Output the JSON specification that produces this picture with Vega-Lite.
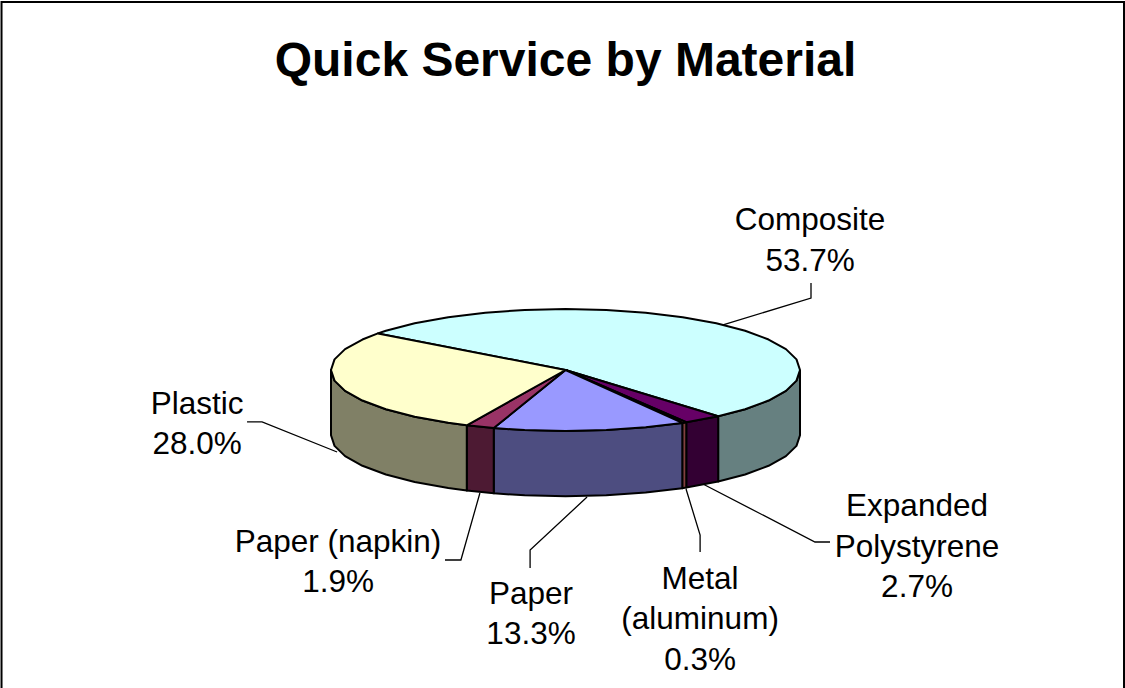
{"$schema":"https://vega.github.io/schema/vega-lite/v6.json","width":1125,"height":688,"padding":0,"autosize":{"type":"none"},"background":"white","view":{"stroke":null},
"title":{"text":"Quick Service by Material","font":"Liberation Sans","fontSize":48,"fontWeight":"bold","color":"black","anchor":"middle","frame":"group","baseline":"alphabetic","offset":-78,"dx":3,"dy":48},
"datasets":{
"faces":[
{"face":"Composite side","o":0,"x":100,"y":0},{"face":"Composite side","o":1,"x":98.5,"y":-17.4},{"face":"Composite side","o":2,"x":94,"y":-34.2},{"face":"Composite side","o":3,"x":86.6,"y":-50},{"face":"Composite side","o":4,"x":76.6,"y":-64.3},{"face":"Composite side","o":5,"x":65.1,"y":-75.9},{"face":"Composite side","o":6,"x":65.1,"y":-182.9},{"face":"Composite side","o":7,"x":76.6,"y":-171.3},{"face":"Composite side","o":8,"x":86.6,"y":-157},{"face":"Composite side","o":9,"x":94,"y":-141.2},{"face":"Composite side","o":10,"x":98.5,"y":-124.4},{"face":"Composite side","o":11,"x":100,"y":-107},{"face":"Composite side","o":12,"x":100,"y":0},
{"face":"Polystyrene side","o":0,"x":65.1,"y":-75.9},{"face":"Polystyrene side","o":1,"x":51.5,"y":-85.7},{"face":"Polystyrene side","o":2,"x":51.5,"y":-192.7},{"face":"Polystyrene side","o":3,"x":65.1,"y":-182.9},{"face":"Polystyrene side","o":4,"x":65.1,"y":-75.9},
{"face":"Metal side","o":0,"x":51.5,"y":-85.7},{"face":"Metal side","o":1,"x":49.8,"y":-86.7},{"face":"Metal side","o":2,"x":49.8,"y":-193.7},{"face":"Metal side","o":3,"x":51.5,"y":-192.7},{"face":"Metal side","o":4,"x":51.5,"y":-85.7},
{"face":"Paper side","o":0,"x":49.8,"y":-86.7},{"face":"Paper side","o":1,"x":34.2,"y":-94},{"face":"Paper side","o":2,"x":17.4,"y":-98.5},{"face":"Paper side","o":3,"x":0,"y":-100},{"face":"Paper side","o":4,"x":-17.4,"y":-98.5},{"face":"Paper side","o":5,"x":-30.6,"y":-95.2},{"face":"Paper side","o":6,"x":-30.6,"y":-202.2},{"face":"Paper side","o":7,"x":-17.4,"y":-205.5},{"face":"Paper side","o":8,"x":0,"y":-207},{"face":"Paper side","o":9,"x":17.4,"y":-205.5},{"face":"Paper side","o":10,"x":34.2,"y":-201},{"face":"Paper side","o":11,"x":49.8,"y":-193.7},{"face":"Paper side","o":12,"x":49.8,"y":-86.7},
{"face":"Napkin side","o":0,"x":-30.6,"y":-95.2},{"face":"Napkin side","o":1,"x":-42.1,"y":-90.7},{"face":"Napkin side","o":2,"x":-42.1,"y":-197.7},{"face":"Napkin side","o":3,"x":-30.6,"y":-202.2},{"face":"Napkin side","o":4,"x":-30.6,"y":-95.2},
{"face":"Plastic side","o":0,"x":-42.1,"y":-90.7},{"face":"Plastic side","o":1,"x":-50,"y":-86.6},{"face":"Plastic side","o":2,"x":-64.3,"y":-76.6},{"face":"Plastic side","o":3,"x":-76.6,"y":-64.3},{"face":"Plastic side","o":4,"x":-86.6,"y":-50},{"face":"Plastic side","o":5,"x":-94,"y":-34.2},{"face":"Plastic side","o":6,"x":-98.5,"y":-17.4},{"face":"Plastic side","o":7,"x":-100,"y":0},{"face":"Plastic side","o":8,"x":-100,"y":-107},{"face":"Plastic side","o":9,"x":-98.5,"y":-124.4},{"face":"Plastic side","o":10,"x":-94,"y":-141.2},{"face":"Plastic side","o":11,"x":-86.6,"y":-157},{"face":"Plastic side","o":12,"x":-76.6,"y":-171.3},{"face":"Plastic side","o":13,"x":-64.3,"y":-183.6},{"face":"Plastic side","o":14,"x":-50,"y":-193.6},{"face":"Plastic side","o":15,"x":-42.1,"y":-197.7},{"face":"Plastic side","o":16,"x":-42.1,"y":-90.7},
{"face":"Composite top","o":0,"x":0,"y":0},{"face":"Composite top","o":1,"x":-80,"y":60},{"face":"Composite top","o":2,"x":-76.6,"y":64.3},{"face":"Composite top","o":3,"x":-64.3,"y":76.6},{"face":"Composite top","o":4,"x":-50,"y":86.6},{"face":"Composite top","o":5,"x":-34.2,"y":94},{"face":"Composite top","o":6,"x":-17.4,"y":98.5},{"face":"Composite top","o":7,"x":0,"y":100},{"face":"Composite top","o":8,"x":17.4,"y":98.5},{"face":"Composite top","o":9,"x":34.2,"y":94},{"face":"Composite top","o":10,"x":50,"y":86.6},{"face":"Composite top","o":11,"x":64.3,"y":76.6},{"face":"Composite top","o":12,"x":76.6,"y":64.3},{"face":"Composite top","o":13,"x":86.6,"y":50},{"face":"Composite top","o":14,"x":94,"y":34.2},{"face":"Composite top","o":15,"x":98.5,"y":17.4},{"face":"Composite top","o":16,"x":100,"y":0},{"face":"Composite top","o":17,"x":98.5,"y":-17.4},{"face":"Composite top","o":18,"x":94,"y":-34.2},{"face":"Composite top","o":19,"x":86.6,"y":-50},{"face":"Composite top","o":20,"x":76.6,"y":-64.3},{"face":"Composite top","o":21,"x":65.1,"y":-75.9},{"face":"Composite top","o":22,"x":0,"y":0},
{"face":"Polystyrene top","o":0,"x":0,"y":0},{"face":"Polystyrene top","o":1,"x":65.1,"y":-75.9},{"face":"Polystyrene top","o":2,"x":51.5,"y":-85.7},{"face":"Polystyrene top","o":3,"x":0,"y":0},
{"face":"Metal top","o":0,"x":0,"y":0},{"face":"Metal top","o":1,"x":51.5,"y":-85.7},{"face":"Metal top","o":2,"x":49.8,"y":-86.7},{"face":"Metal top","o":3,"x":0,"y":0},
{"face":"Paper top","o":0,"x":0,"y":0},{"face":"Paper top","o":1,"x":49.8,"y":-86.7},{"face":"Paper top","o":2,"x":34.2,"y":-94},{"face":"Paper top","o":3,"x":17.4,"y":-98.5},{"face":"Paper top","o":4,"x":0,"y":-100},{"face":"Paper top","o":5,"x":-17.4,"y":-98.5},{"face":"Paper top","o":6,"x":-30.6,"y":-95.2},{"face":"Paper top","o":7,"x":0,"y":0},
{"face":"Napkin top","o":0,"x":0,"y":0},{"face":"Napkin top","o":1,"x":-30.6,"y":-95.2},{"face":"Napkin top","o":2,"x":-42.1,"y":-90.7},{"face":"Napkin top","o":3,"x":0,"y":0},
{"face":"Plastic top","o":0,"x":0,"y":0},{"face":"Plastic top","o":1,"x":-42.1,"y":-90.7},{"face":"Plastic top","o":2,"x":-50,"y":-86.6},{"face":"Plastic top","o":3,"x":-64.3,"y":-76.6},{"face":"Plastic top","o":4,"x":-76.6,"y":-64.3},{"face":"Plastic top","o":5,"x":-86.6,"y":-50},{"face":"Plastic top","o":6,"x":-94,"y":-34.2},{"face":"Plastic top","o":7,"x":-98.5,"y":-17.4},{"face":"Plastic top","o":8,"x":-100,"y":0},{"face":"Plastic top","o":9,"x":-98.5,"y":17.4},{"face":"Plastic top","o":10,"x":-94,"y":34.2},{"face":"Plastic top","o":11,"x":-86.6,"y":50},{"face":"Plastic top","o":12,"x":-80,"y":60},{"face":"Plastic top","o":13,"x":0,"y":0}
],
"leaders":[
{"s":"Composite","o":0,"x":104.69,"y":142.6},{"s":"Composite","o":1,"x":104.69,"y":118},{"s":"Composite","o":2,"x":67.16,"y":73.8},
{"s":"Plastic","o":0,"x":-135.8,"y":-85.2},{"s":"Plastic","o":1,"x":-129.4,"y":-85.2},{"s":"Plastic","o":2,"x":-97.4,"y":-134.4},
{"s":"Napkin","o":0,"x":-51.4,"y":-311.5},{"s":"Napkin","o":1,"x":-44.6,"y":-311.5},{"s":"Napkin","o":2,"x":-36.5,"y":-201.6},
{"s":"Paper","o":0,"x":-15.1,"y":-324.6},{"s":"Paper","o":1,"x":-15.1,"y":-295.1},{"s":"Paper","o":2,"x":9.2,"y":-208.2},
{"s":"Metal","o":0,"x":57.4,"y":-298.4},{"s":"Metal","o":1,"x":57.4,"y":-270.5},{"s":"Metal","o":2,"x":51.4,"y":-195.1},
{"s":"Polystyrene","o":0,"x":112.8,"y":-282},{"s":"Polystyrene","o":1,"x":106.4,"y":-282},{"s":"Polystyrene","o":2,"x":58.6,"y":-186.9}
],
"labels":[
{"label":"Composite\n53.7%","x":104.3,"y":229.5},
{"label":"Plastic\n28.0%","x":-157.1,"y":-72},
{"label":"Paper (napkin)\n1.9%","x":-97,"y":-298},
{"label":"Paper\n13.3%","x":-14.7,"y":-383.5},
{"label":"Metal\n(aluminum)\n0.3%","x":57.4,"y":-359},
{"label":"Expanded\nPolystyrene\n2.7%","x":149.9,"y":-239.5}
],
"frame":[
{"o":0,"x":-240.5,"y":-521.31},{"o":1,"x":-240.5,"y":603.28},{"o":2,"x":238.17,"y":603.28},{"o":3,"x":238.17,"y":-521.31}
]},
"encoding":{
"x":{"field":"x","type":"quantitative","axis":null,"scale":{"domain":[-241.15,238.59],"nice":false,"zero":false}},
"y":{"field":"y","type":"quantitative","axis":null,"scale":{"domain":[-521.31,606.56],"nice":false,"zero":false}}
},
"layer":[
{"data":{"name":"frame"},"mark":{"type":"line","stroke":"black","strokeWidth":2},"encoding":{"order":{"field":"o","type":"quantitative"}}},
{"data":{"name":"leaders"},"mark":{"type":"line","stroke":"black","strokeWidth":1.3},"encoding":{"detail":{"field":"s","type":"nominal"},"order":{"field":"o","type":"quantitative"}}},
{"data":{"name":"faces"},"mark":{"type":"line","stroke":"black","strokeWidth":2,"strokeJoin":"round"},"encoding":{"order":{"field":"o","type":"quantitative"},"fill":{"field":"face","type":"nominal","legend":null,"scale":{"domain":["Composite side","Polystyrene side","Metal side","Paper side","Napkin side","Plastic side","Composite top","Polystyrene top","Metal top","Paper top","Napkin top","Plastic top"],"range":["#668080","#330033","#804040","#4D4D80","#4D1A33","#808066","#CCFFFF","#660066","#FF8080","#9999FF","#993366","#FFFFCC"]}}}},
{"data":{"name":"labels"},"mark":{"type":"text","font":"Liberation Sans","fontSize":31.5,"color":"black","align":"center","baseline":"alphabetic","lineBreak":"\n","lineHeight":40.5},"encoding":{"text":{"field":"label","type":"nominal"}}}
]}
